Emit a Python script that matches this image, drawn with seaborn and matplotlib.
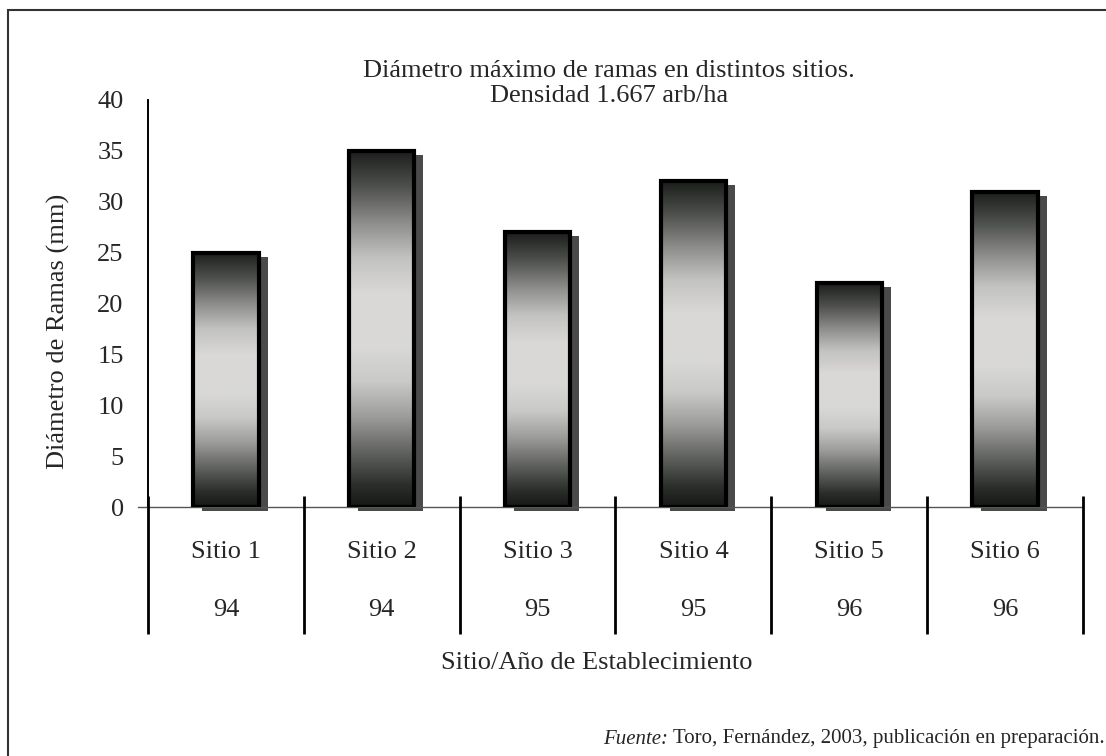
import numpy as np
import pandas as pd
import matplotlib.pyplot as plt
import matplotlib.transforms as mtransforms
from matplotlib.colors import LinearSegmentedColormap
from matplotlib.patches import Rectangle
import seaborn as sns

sns.set_style("white")
plt.rcParams['font.family'] = ['Liberation Serif', 'DejaVu Serif']

# Data
sitios = ['Sitio 1', 'Sitio 2', 'Sitio 3', 'Sitio 4', 'Sitio 5', 'Sitio 6']
anios = ['94', '94', '95', '95', '96', '96']
diametro = [25, 35, 27, 32, 22, 31]
y_ticks = [0, 5, 10, 15, 20, 25, 30, 35, 40]

df = pd.DataFrame({'sitio': sitios, 'anio': anios, 'diametro': diametro})

FS = 19

fig = plt.figure(figsize=(11.06, 7.56), dpi=100)
ax = fig.add_axes([148 / 1106, 1 - 507 / 756, (1083 - 148) / 1106, (507 - 100) / 756])

sns.barplot(data=df, x='sitio', y='diametro', order=sitios, width=0.42,
            color='white', ax=ax, zorder=3)

# metallic gradient: dark top and bottom, light middle
grad = LinearSegmentedColormap.from_list('metal', [
    (0.0, '#151815'), (0.06, '#2b2e2b'), (0.15, '#5f615f'), (0.25, '#9b9b99'),
    (0.35, '#c9c9c7'), (0.45, '#d9d9d7'), (0.6, '#d9d8d6'), (0.7, '#c2c2c0'),
    (0.8, '#8c8c8a'), (0.9, '#4e504e'), (1.0, '#1b1e1b')])
shade = np.linspace(0, 1, 256).reshape(-1, 1)

shadow_tf = mtransforms.offset_copy(ax.transData, fig=fig, x=9, y=-4, units='dots')
for bar in list(ax.patches):
    x0, w, h = bar.get_x(), bar.get_width(), bar.get_height()
    sh = Rectangle((x0, 0), w, h, transform=shadow_tf, facecolor='#4a4a4a',
                   edgecolor='none', zorder=2, clip_on=False)
    ax.add_patch(sh)
    im = ax.imshow(shade, cmap=grad, aspect='auto', extent=(x0, x0 + w, 0, h),
                   origin='lower', zorder=3.5)
    im.set_clip_path(bar)
    bar.set_facecolor('none')
    bar.set_edgecolor('black')
    bar.set_linewidth(3)
    bar.set_zorder(4)

ax.set_xlim(-0.5, len(sitios) - 0.5)
ax.set_ylim(0, 40)
ax.set_yticks(y_ticks)
ax.set_xticks([])
ax.set_xlabel('')
ax.set_ylabel('')
ax.tick_params(axis='y', direction='inout', length=15, width=1.4, color='black',
               labelsize=FS, pad=10)

for side in ['top', 'right']:
    ax.spines[side].set_visible(False)
ax.spines['left'].set_linewidth(1.4)
ax.spines['left'].set_color('black')
ax.spines['bottom'].set_color('#555555')
ax.spines['bottom'].set_linewidth(1.0)
ax.spines['bottom'].set_bounds(-0.565, len(sitios) - 0.5)

# category separators below axis
bounds = np.arange(len(sitios) + 1) - 0.5
ax.vlines(bounds, -12.5, 1.1, colors='black', linewidth=2, clip_on=False, zorder=5)

for i, (s, a) in enumerate(zip(sitios, anios)):
    ax.annotate(s, xy=(i, 0), xycoords=('data', 'axes fraction'), xytext=(0, -45),
                textcoords='offset pixels', ha='center', va='center', fontsize=FS)
    ax.annotate(a, xy=(i, 0), xycoords=('data', 'axes fraction'), xytext=(0, -103),
                textcoords='offset pixels', ha='center', va='center', fontsize=FS)

fig.text(58 / 1106, 1 - 331 / 756, 'Diámetro de Ramas (mm)', rotation=90,
         ha='center', va='center', fontsize=FS)

fig.text(609 / 1106, 1 - 77 / 756, 'Diámetro máximo de ramas en distintos sitios.',
         ha='center', va='baseline', fontsize=FS)
fig.text(609 / 1106, 1 - 102 / 756, 'Densidad 1.667 arb/ha',
         ha='center', va='baseline', fontsize=FS)
fig.text(597 / 1106, 1 - 663 / 756, 'Sitio/Año de Establecimiento',
         ha='center', va='center', fontsize=FS)

src = fig.text(1105 / 1106, 1 - 739 / 756,
               'Toro, Fernández, 2003, publicación en preparación.',
               ha='right', va='center', fontsize=15)
ax.annotate('Fuente: ', xy=(0, 0.5), xycoords=src, ha='right', va='center',
            fontsize=15, style='italic', annotation_clip=False)

fig.add_artist(Rectangle((8 / 1106, -0.01), 1.1, 1 - 10 / 756 + 0.01,
                         transform=fig.transFigure, fill=False,
                         edgecolor='#333333', linewidth=1.5))

fig.savefig('out.png', dpi=100)
